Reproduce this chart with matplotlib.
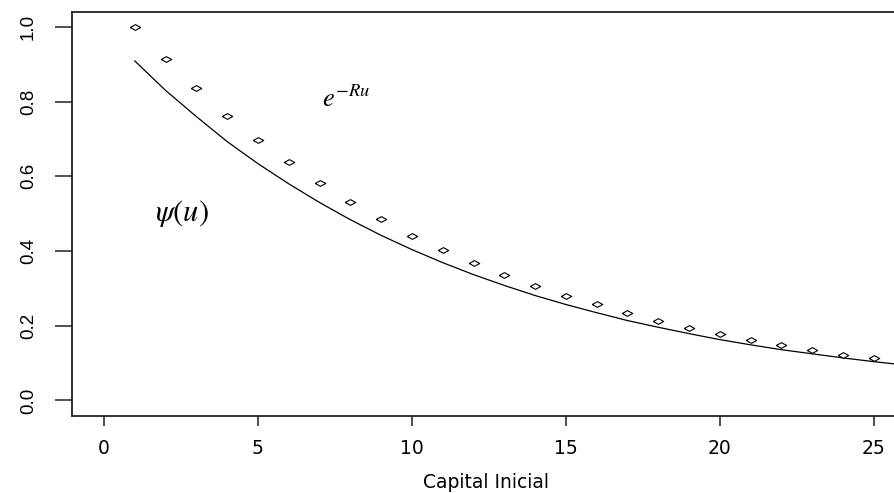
import matplotlib
matplotlib.use("Agg")
import matplotlib.pyplot as plt
import numpy as np

# Data
u_points = list(range(1, 26))
exp_bound = [1.000, 0.914, 0.836, 0.762, 0.697, 0.638, 0.582, 0.531, 0.485, 0.441,
             0.404, 0.368, 0.337, 0.306, 0.280, 0.257, 0.234, 0.213, 0.194, 0.177,
             0.162, 0.148, 0.135, 0.123, 0.114]
u_curve = list(range(1, 27))
psi_curve = [0.909, 0.830, 0.760, 0.693, 0.634, 0.580, 0.530, 0.484, 0.442, 0.404,
             0.369, 0.337, 0.308, 0.281, 0.257, 0.235, 0.214, 0.196, 0.179, 0.163,
             0.149, 0.136, 0.125, 0.114, 0.104, 0.095]
x_ticks = [0, 5, 10, 15, 20, 25]
y_ticks = [0.0, 0.2, 0.4, 0.6, 0.8, 1.0]
y_tick_labels = ["0.0", "0.2", "0.4", "0.6", "0.8", "1.0"]

plt.rcParams['mathtext.fontset'] = 'stix'

W, H = 894, 493
fig = plt.figure(figsize=(W / 100, H / 100), dpi=100)
left, right, top, bottom = 72, 900, 12, 416
ax = fig.add_axes([left / W, (H - bottom) / H, (right - left) / W, (bottom - top) / H])

# stretched diamond marker (R pch=5 look)
diamond = [(-1, 0), (0, 0.55), (1, 0), (0, -0.55), (-1, 0)]

ax.plot(u_curve, psi_curve, color='black', lw=0.9)
ax.plot(u_points, exp_bound, linestyle='none', marker=diamond, markersize=7.5,
        markerfacecolor='white', markeredgecolor='black', markeredgewidth=0.8)

ax.set_xlim(-1.04, 25.85)
ax.set_ylim(-0.0415, 1.04)

ax.set_xticks(x_ticks)
ax.set_xticklabels([str(t) for t in x_ticks], fontfamily='DejaVu Sans', fontsize=13.5)
ax.set_yticks(y_ticks)
ax.set_yticklabels(y_tick_labels, rotation=90, va='center',
                   fontfamily='Liberation Sans', fontsize=13.5)

ax.tick_params(axis='x', direction='out', length=7.2, width=1.1, pad=9.5, colors='#222222', labelcolor='black')
ax.tick_params(axis='y', direction='out', length=12.2, width=1.1, pad=13, colors='#222222', labelcolor='black')

for s in ['left', 'bottom', 'top', 'right']:
    ax.spines[s].set_linewidth(1.3)
    ax.spines[s].set_color('#222222')

ax.set_xlabel('Capital Inicial', fontfamily='DejaVu Sans', fontsize=13.5, labelpad=11)

ax.text(2.53, 0.50, r'$\psi(u)$', fontsize=22, ha='center', va='center')
ax.text(7.86, 0.805, r'$e^{-Ru}$', fontsize=19, ha='center', va='center')

fig.savefig('out.png', dpi=100)
